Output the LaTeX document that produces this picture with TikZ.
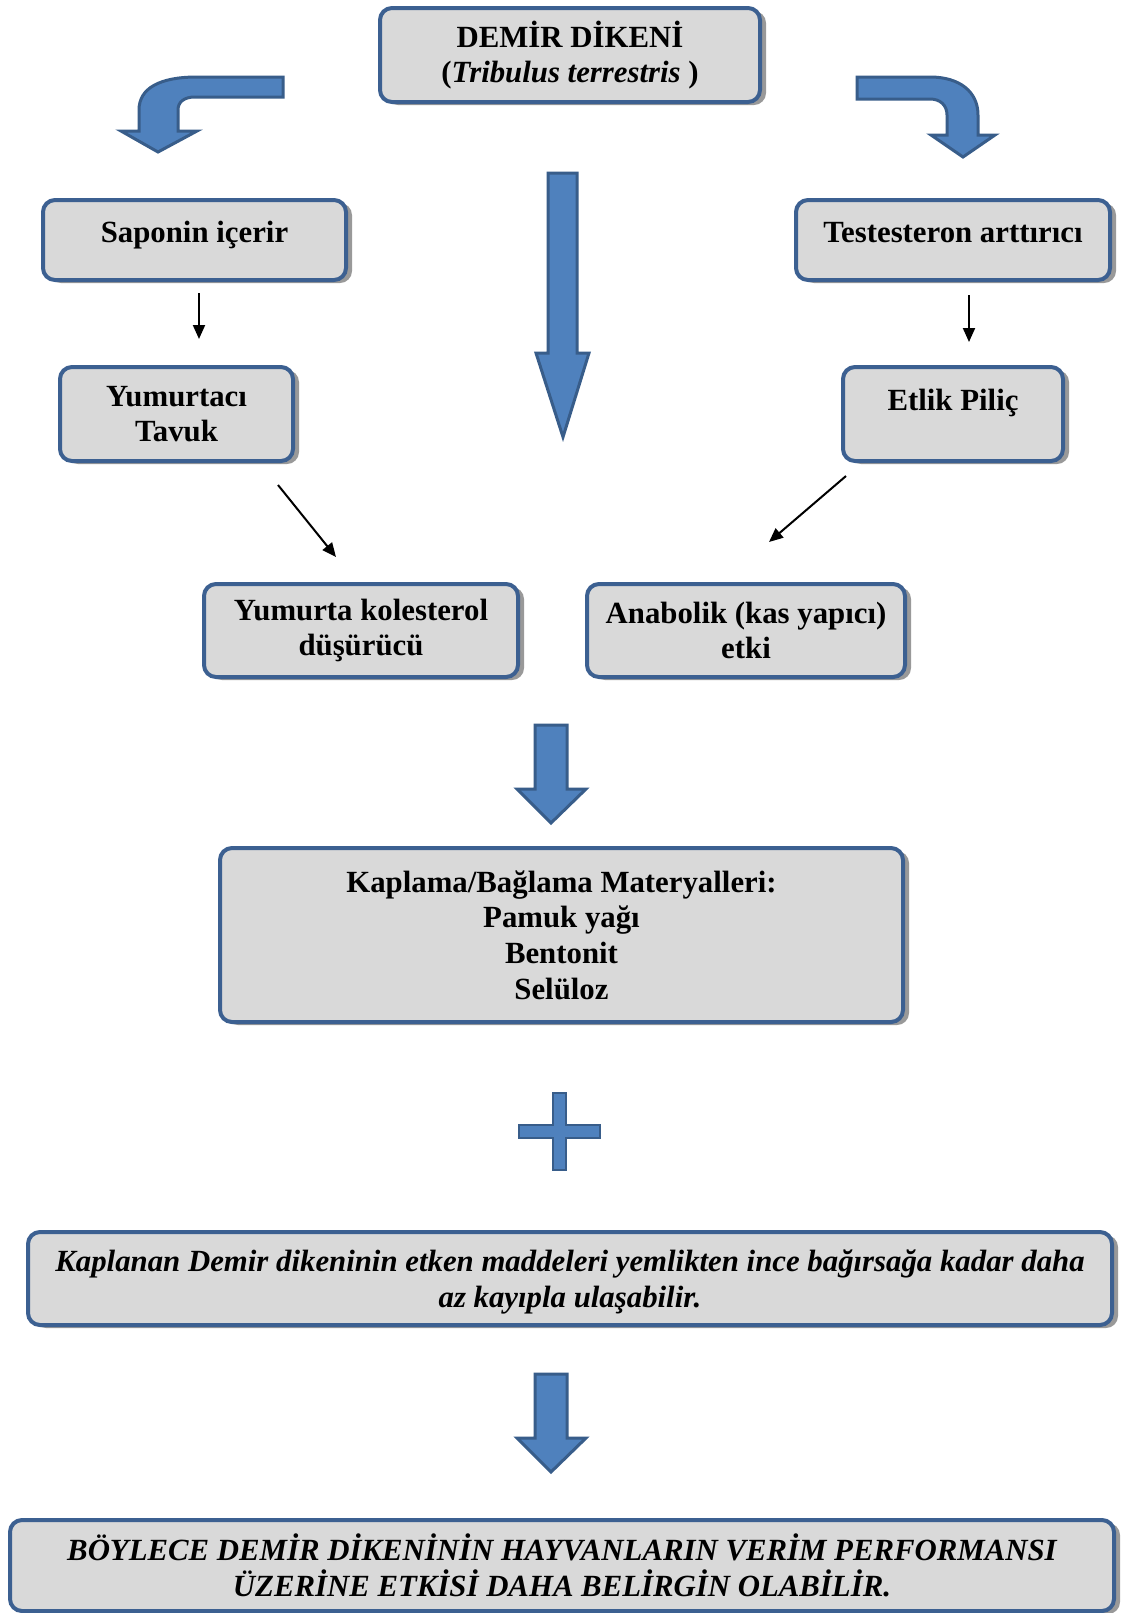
\documentclass[tikz,border=0pt]{standalone}
\usepackage{fontspec}
\setmainfont{Liberation Serif}
\usetikzlibrary{shadows,arrows.meta}
\definecolor{boxfill}{RGB}{217,217,217}
\definecolor{boxline}{RGB}{60,96,145}
\definecolor{arrfill}{RGB}{79,129,189}
\definecolor{arrline}{RGB}{56,93,138}
\begin{document}
\begin{tikzpicture}[x=0.5pt,y=-0.5pt,
  card/.style={draw=boxline, line width=2pt, fill=boxfill, rounded corners=6pt,
    align=center, inner sep=0pt,
    font=\fontsize{15.4}{17.8}\selectfont\bfseries,
    drop shadow={shadow xshift=3pt, shadow yshift=-1.5pt, fill=black!40, opacity=1}},
  icard/.style={card, font=\fontsize{15.4}{17.8}\selectfont\bfseries\itshape},
  blockarrow/.style={fill=arrfill, draw=arrline, line width=1.5pt, line join=miter},
  thinarrow/.style={draw=black, line width=1pt, -{Triangle[length=7pt,width=6pt]}}
]
\useasboundingbox (0,0) rectangle (1129,1613);
\fill[white] (0,0) rectangle (1129,1613);

% boxes (sizes in pt = px/2)
\node[card, minimum width=190pt, minimum height=47pt] (top) at (570,55) {DEMİR DİKENİ\\(\textit{Tribulus terrestris} )};
\node[card, minimum width=151.5pt, minimum height=40pt, text height=11pt, text depth=9pt] (sap) at (194.5,240) {Saponin içerir};
\node[card, minimum width=157pt, minimum height=40pt, text height=11pt, text depth=9pt] (test) at (953,240) {Testesteron arttırıcı};
\node[card, minimum width=116.5pt, minimum height=47pt] (yum) at (176.5,414) {Yumurtacı\\Tavuk};
\node[card, minimum width=110pt, minimum height=47pt, text height=11pt, text depth=15pt] (etl) at (953,414) {Etlik Piliç};
\node[card, minimum width=157pt, minimum height=46.5pt] (kol) at (361,630.5) {Yumurta kolesterol\\düşürücü};
\node[card, minimum width=159pt, minimum height=46.5pt] (ana) at (746,630.5) {Anabolik (kas yapıcı)\\etki};
\node[card, minimum width=341.5pt, minimum height=87pt] (kap) at (561.5,935) {Kaplama/Bağlama Materyalleri:\\Pamuk yağı\\Bentonit\\Selüloz};
\node[icard, minimum width=542pt, minimum height=46.5pt, text depth=0pt] (kpl) at (570,1278.5) {Kaplanan Demir dikeninin etken maddeleri yemlikten ince bağırsağa kadar daha\\az kayıpla ulaşabilir.};
\node[icard, minimum width=552pt, minimum height=45.5pt] (son) at (562,1565.5) {BÖYLECE DEMİR DİKENİNİN HAYVANLARIN VERİM PERFORMANSI\\ÜZERİNE ETKİSİ DAHA BELİRGİN OLABİLİR.};

% curved arrows
\path[blockarrow] (283,77) -- (197,77) .. controls (160,77) and (139,88) .. (139,110)
  -- (139,131) -- (121,131) -- (158,152) -- (197,131) -- (178,131) -- (178,110)
  .. controls (178,102) and (184,97) .. (195,97) -- (283,97) -- cycle;
\path[blockarrow] (857,77) -- (930,77) .. controls (960,77) and (978,92) .. (978,115)
  -- (978,135) -- (995,135) -- (963,157) -- (931,135) -- (947,135) -- (947,115)
  .. controls (947,105) and (940,99) .. (930,99) -- (857,99) -- cycle;

% central long arrow
\path[blockarrow] (548,173) -- (577,173) -- (577,353) -- (589,353) -- (563,437)
  -- (536,353) -- (548,353) -- cycle;

% down arrows
\path[blockarrow] (535,725) -- (567,725) -- (567,789) -- (586,789) -- (551,823)
  -- (517,789) -- (535,789) -- cycle;
\path[blockarrow] (535,1374) -- (567,1374) -- (567,1438) -- (586,1438) -- (551,1472)
  -- (517,1438) -- (535,1438) -- cycle;

% plus
\path[blockarrow, line width=1pt] (553,1093) -- (566,1093) -- (566,1125) -- (600,1125)
  -- (600,1138) -- (566,1138) -- (566,1170) -- (553,1170) -- (553,1138) -- (519,1138)
  -- (519,1125) -- (553,1125) -- cycle;

% thin arrows
\coordinate (a1s) at (199,293); \coordinate (a1e) at (199,339);
\coordinate (a2s) at (969,295); \coordinate (a2e) at (969,342);
\coordinate (a3s) at (278,485); \coordinate (a3e) at (336,557);
\coordinate (a4s) at (846,476); \coordinate (a4e) at (769,542);
\draw[thinarrow] (a1s) -- (a1e);
\draw[thinarrow] (a2s) -- (a2e);
\draw[thinarrow] (a3s) -- (a3e);
\draw[thinarrow] (a4s) -- (a4e);
\end{tikzpicture}
\end{document}
